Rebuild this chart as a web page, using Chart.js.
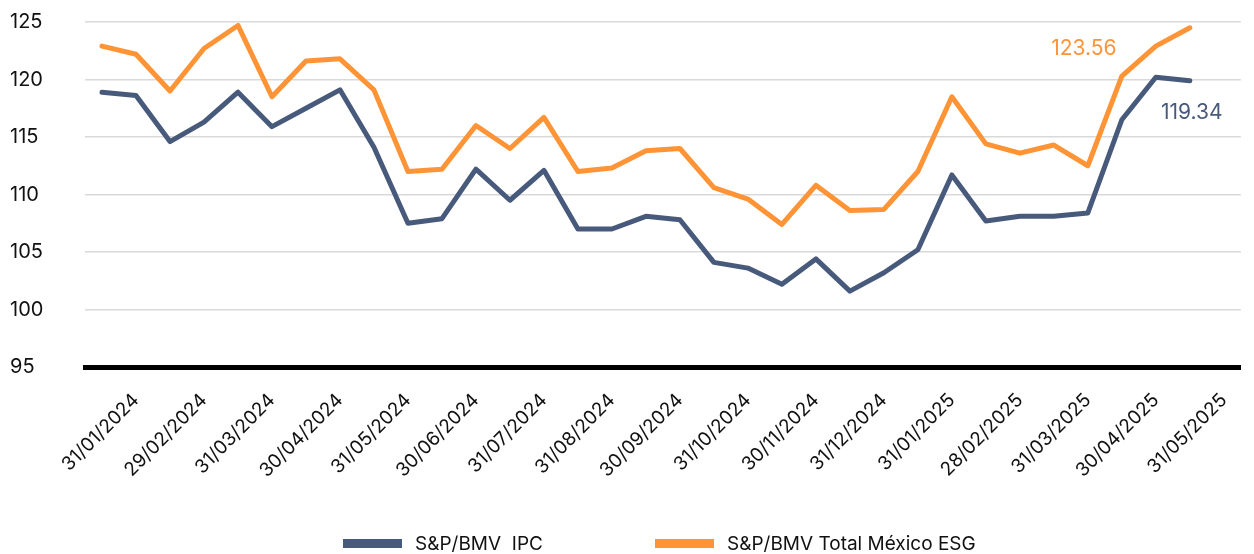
<!DOCTYPE html>
<html>
<head>
<meta charset="utf-8">
<script src="https://cdn.jsdelivr.net/npm/chart.js@4"></script>
<style>
  html, body { margin: 0; padding: 0; background: #fff; }
  #wrap { width: 1254px; height: 554px; position: relative; }
</style>
</head>
<body>
<div id="wrap"><canvas id="indexChart"></canvas></div>
<script>
// categories: mid-month and month-end observations
const categories = [
    '15/01/2024', '31/01/2024', '15/02/2024', '29/02/2024', '15/03/2024', '31/03/2024',
    '15/04/2024', '30/04/2024', '15/05/2024', '31/05/2024', '15/06/2024', '30/06/2024',
    '15/07/2024', '31/07/2024', '15/08/2024', '31/08/2024', '15/09/2024', '30/09/2024',
    '15/10/2024', '31/10/2024', '15/11/2024', '30/11/2024', '15/12/2024', '31/12/2024',
    '15/01/2025', '31/01/2025', '15/02/2025', '28/02/2025', '15/03/2025', '31/03/2025',
    '15/04/2025', '30/04/2025', '15/05/2025', '31/05/2025'
];
const seriesNames = ['S&P/BMV  IPC', 'S&P/BMV Total México ESG'];
const ipcValues = [
    118.9, 118.6, 114.6, 116.3, 118.9, 115.9, 117.5, 119.1, 114.1, 107.5, 107.9, 112.2,
    109.5, 112.1, 107.0, 107.0, 108.1, 107.8, 104.1, 103.6, 102.2, 104.4, 101.6, 103.2,
    105.2, 111.7, 107.7, 108.1, 108.1, 108.4, 116.5, 120.2, 119.9, null
];
const esgValues = [
    122.9, 122.2, 119.0, 122.7, 124.7, 118.5, 121.6, 121.8, 119.1, 112.0, 112.2, 116.0,
    114.0, 116.7, 112.0, 112.3, 113.8, 114.0, 110.6, 109.6, 107.4, 110.8, 108.6, 108.7,
    112.0, 118.5, 114.4, 113.6, 114.3, 112.5, 120.3, 122.9, 124.5, null
];
const endLabels = ['119.34', '123.56'];
const yTicks = [95, 100, 105, 110, 115, 120, 125];

const navy = '#485a7b';
const orange = '#ff9436';
const fontFamily = 'Inter, "DejaVu Sans", sans-serif';

// writes the closing value next to the last point of each line
const endLabelPlugin = {
    id: 'endLabels',
    afterDatasetsDraw(chart) {
        const ctx = chart.ctx;
        const offsets = [[2, 32], [-106, 21]];
        chart.data.datasets.forEach((ds, i) => {
            const meta = chart.getDatasetMeta(i);
            let last = -1;
            ds.data.forEach((v, j) => { if (v !== null) last = j; });
            const pt = meta.data[last];
            ctx.save();
            ctx.font = '21px ' + fontFamily;
            ctx.fillStyle = ds.borderColor;
            ctx.textAlign = 'center';
            ctx.textBaseline = 'middle';
            ctx.fillText(endLabels[i], pt.x + offsets[i][0], pt.y + offsets[i][1]);
            ctx.restore();
        });
    }
};

// legend row at the bottom: long swatch, then series name
const bottomLegend = {
    id: 'bottomLegend',
    afterDraw(chart) {
        const ctx = chart.ctx;
        const y = chart.height - 10;
        const starts = [343, 655];
        ctx.save();
        ctx.font = '19px ' + fontFamily;
        ctx.textBaseline = 'middle';
        ctx.textAlign = 'left';
        chart.data.datasets.forEach((ds, i) => {
            ctx.fillStyle = ds.borderColor;
            ctx.fillRect(starts[i], y - 5, 59, 9);
            ctx.fillStyle = '#111';
            ctx.fillText(ds.label, starts[i] + 72, y);
        });
        ctx.restore();
    }
};

const ctx = document.getElementById('indexChart').getContext('2d');
new Chart(ctx, {
    type: 'line',
    data: {
        labels: categories,
        datasets: [{
            label: seriesNames[0],
            data: ipcValues,
            borderColor: navy,
            backgroundColor: navy,
            borderWidth: 5,
            pointRadius: 0,
            tension: 0,
            borderJoinStyle: 'round',
            borderCapStyle: 'round'
        }, {
            label: seriesNames[1],
            data: esgValues,
            borderColor: orange,
            backgroundColor: orange,
            borderWidth: 5,
            pointRadius: 0,
            tension: 0,
            borderJoinStyle: 'round',
            borderCapStyle: 'round'
        }]
    },
    options: {
        responsive: true,
        maintainAspectRatio: false,
        animation: false,
        layout: { padding: { left: 10, right: 4, top: 0, bottom: 30 } },
        scales: {
            x: {
                offset: true,
                grid: { display: false },
                border: { color: '#000', width: 5 },
                afterFit: axis => { axis.height = 157; },
                ticks: {
                    autoSkip: false,
                    minRotation: 45,
                    maxRotation: 45,
                    padding: 14,
                    color: '#111',
                    font: { family: fontFamily, size: 19 },
                    callback: function(value, index) {
                        return index % 2 === 1 ? categories[index] : '';
                    }
                }
            },
            y: {
                min: 95,
                max: 125,
                afterBuildTicks: axis => { axis.ticks = yTicks.map(v => ({ value: v })); },
                afterFit: axis => { axis.width = 75; },
                grid: { color: '#d9d9d9', lineWidth: 1.5, drawTicks: false },
                border: { display: false },
                ticks: {
                    padding: 10,
                    crossAlign: 'far',
                    color: '#111',
                    font: { family: fontFamily, size: 20 }
                }
            }
        },
        plugins: {
            legend: { display: false },
            tooltip: { enabled: false }
        }
    },
    plugins: [endLabelPlugin, bottomLegend]
});
</script>
</body>
</html>
